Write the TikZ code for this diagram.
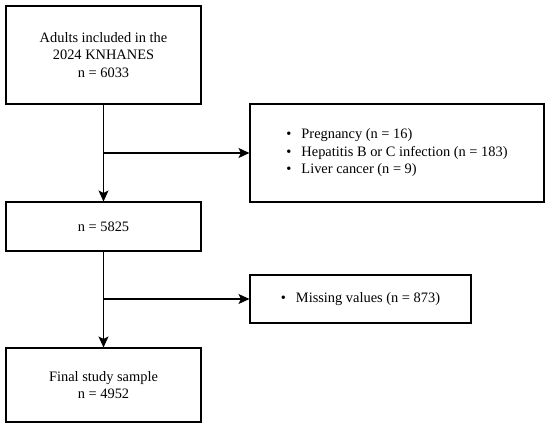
\documentclass[tikz,border=0pt]{standalone}
\usepackage{fontspec}
\setmainfont{Liberation Serif}
\usetikzlibrary{arrows.meta}
\tikzset{
	box/.style={draw, line width=1.1pt, inner sep=0pt, align=center, font=\fontsize{14.4}{17.5}\selectfont},
	arr/.style={line width=1.1pt, -{Stealth[length=11pt,width=10pt,inset=2.5pt]}}
}
\newcommand{\bul}{\textbullet\hspace{10pt}}
\begin{document}
\begin{tikzpicture}[x=1pt,y=-1pt]
	\useasboundingbox (0,0) rectangle (550,428);
	\node[box, minimum width=195pt, minimum height=98pt] at (103.5,55) (all) {Adults included in the\\2024 KNHANES\\n = 6033};
	\node[box, minimum width=195pt, minimum height=49pt] at (103.5,226.5) (mid) {n = 5825};
	\node[box, minimum width=195pt, minimum height=74pt] at (103.5,385) (final) {Final study sample\\n = 4952};
	\node[box, minimum width=294pt, minimum height=98pt, align=left] at (397,153) (excl1) {\bul Pregnancy (n = 16)\\\bul Hepatitis B or C infection (n = 183)\\\bul Liver cancer (n = 9)};
	\node[box, minimum width=221pt, minimum height=48pt, align=left] at (360.5,299) (excl2) {\bul Missing values (n = 873)};
	\coordinate (b1) at (103.5,153);
	\coordinate (b2) at (103.5,299);
	\draw[arr] (all) -- (mid);
	\draw[arr] (b1) -- (excl1);
	\draw[arr] (mid) -- (final);
	\draw[arr] (b2) -- (excl2);
\end{tikzpicture}
\end{document}
